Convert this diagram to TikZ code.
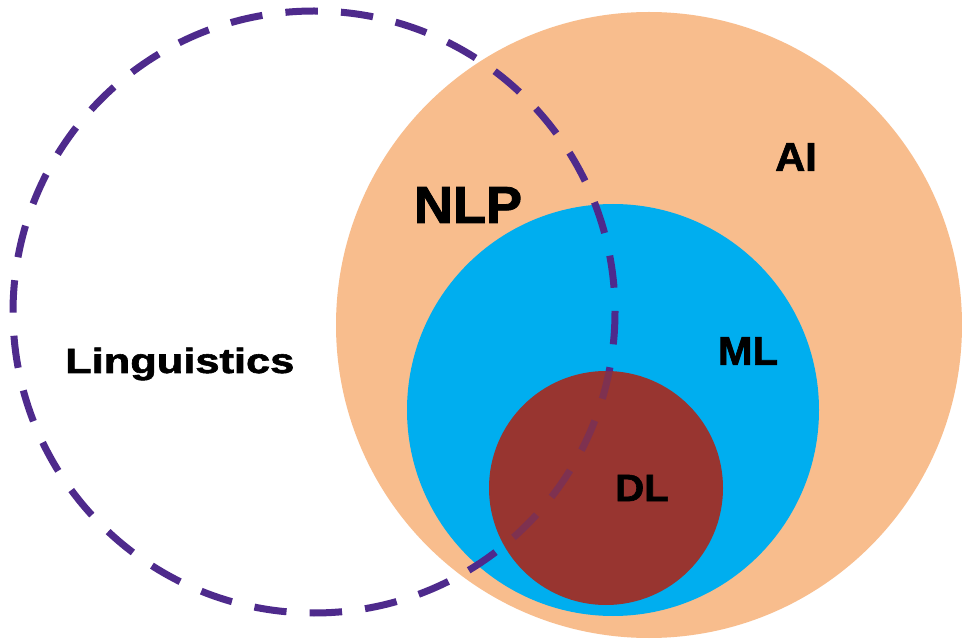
\documentclass[tikz,border=0pt]{standalone}
\usepackage{fontspec}
\setmainfont{Liberation Sans}[BoldFeatures={FakeBold=1.6}]
\definecolor{aiorange}{HTML}{F8BD8D}
\definecolor{mlblue}{HTML}{00AEEF}
\definecolor{dlred}{HTML}{983530}
\definecolor{lingpurple}{HTML}{4E2A8C}
\tikzset{
  setcircle/.style={circle, inner sep=0pt, draw=none},
  lingline/.style={draw=lingpurple, line width=7pt, dash pattern=on 32.4pt off 23.2pt},
  lbl/.style={inner sep=0pt, text=black, font=\bfseries}
}
\begin{document}
\begin{tikzpicture}[x=1pt,y=-1pt]
\useasboundingbox (0,0) rectangle (962,644);
\fill[white] (0,0) rectangle (962,644);
\node[setcircle, fill=aiorange, minimum size=626pt] (ai) at (649,325) {};
\node[setcircle, fill=mlblue, minimum size=412pt] (ml) at (613,410) {};
\node[setcircle, fill=dlred, minimum size=234pt] (dl) at (606,488) {};
\coordinate (lingc) at (314,312);
\begin{scope}[even odd rule]
  \clip (0,0) rectangle (962,644) (dl.center) circle[radius=117];
  \draw[lingline] (lingc) circle[radius=301];
\end{scope}
\begin{scope}
  \clip (dl.center) circle[radius=117];
  \draw[lingline, opacity=0.35] (lingc) circle[radius=301];
\end{scope}
\node[lbl] (tai) at (796,157) {\fontsize{40}{44}\selectfont\scalebox{1.04}[1]{AI}};
\node[lbl] (tnlp) at (468,205) {\fontsize{52}{56}\selectfont\scalebox{1.04}[1]{NLP}};
\node[lbl] (tml) at (748,351) {\fontsize{40}{44}\selectfont\scalebox{1.04}[1]{ML}};
\node[lbl] (tdl) at (642,488) {\fontsize{38}{42}\selectfont\scalebox{1.06}[1]{DL}};
\node[lbl, anchor=base west] (tling) at (65,373) {\fontsize{35}{40}\selectfont\scalebox{1.24}[1]{Linguistics}};
\end{tikzpicture}
\end{document}
